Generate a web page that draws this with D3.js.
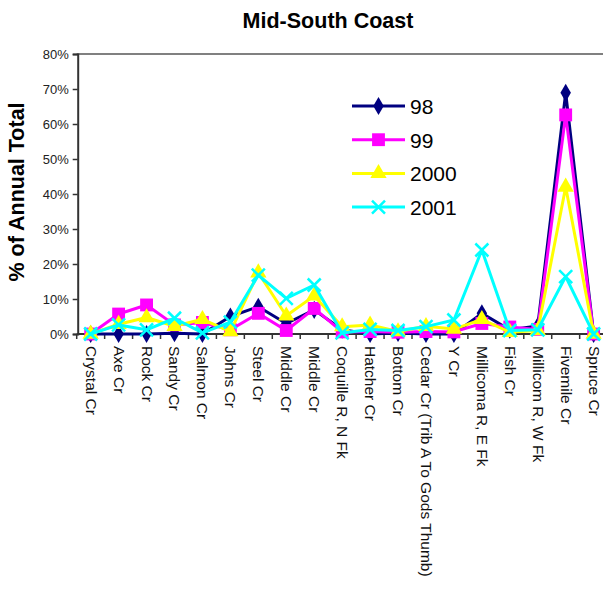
<!DOCTYPE html>
<html>
<head>
<meta charset="utf-8">
<script src="https://cdn.jsdelivr.net/npm/d3@7/dist/d3.min.js"></script>
<style>
  html, body { margin: 0; padding: 0; background: #fff; }
  svg { display: block; font-family: "Liberation Sans", Arial, sans-serif; }
</style>
</head>
<body>
<svg id="chart" width="603" height="592"></svg>
<script>
// Stream sites along the Mid-South Coast
const categories = ["Crystal Cr", "Axe Cr", "Rock Cr", "Sandy Cr", "Salmon Cr", "Johns Cr",
  "Steel Cr", "Middle Cr", "Middle Cr", "Coquille R, N Fk", "Hatcher Cr", "Bottom Cr",
  "Cedar Cr (Trib A To Gods Thumb)", "Y Cr", "Millicoma R, E Fk", "Fish Cr",
  "Millicom R, W Fk", "Fivemile Cr", "Spruce Cr"];

// Share of the annual total (percent) for each year
const values98   = [0, 0, 0, 0.2, 0, 5.0, 7.8, 3.0, 6.9, 1.2, 0, 0.3, 0, 0, 5.9, 1.2, 2.3, 68.9, 0];
const values99   = [0, 5.7, 8.3, 2.6, 3.3, 1.2, 5.9, 1.0, 7.3, 0.6, 0.7, 0.5, 0.7, 0.6, 3.0, 2.0, 1.3, 62.6, 0];
const values2000 = [0, 2.8, 4.7, 2.2, 4.2, 0.7, 17.5, 5.2, 10.9, 2.1, 2.6, 0.7, 2.2, 1.4, 4.2, 0.5, 1.0, 42.0, 0];
const values2001 = [0, 2.6, 1.2, 4.5, 0.3, 3.4, 16.8, 10.2, 14.0, 0.3, 1.3, 1.0, 2.1, 4.0, 24.0, 1.0, 1.2, 16.4, 0];

const seriesNames = ["98", "99", "2000", "2001"];
const yTicks = [0, 10, 20, 30, 40, 50, 60, 70, 80];

const series = [
  { name: seriesNames[0], values: values98,   color: "#000080", symbol: "diamond" },
  { name: seriesNames[1], values: values99,   color: "#FF00FF", symbol: "square" },
  { name: seriesNames[2], values: values2000, color: "#FFFF00", symbol: "triangle" },
  { name: seriesNames[3], values: values2001, color: "#00FFFF", symbol: "cross" }
];

const svg = d3.select("#chart");
const plot = { left: 76.7, right: 607.6, top: 54, bottom: 334 };

const x = d3.scaleBand().domain(d3.range(categories.length)).range([plot.left, plot.right]);
const cx = i => x(i) + x.bandwidth() / 2;
const y = d3.scaleLinear().domain([0, 80]).range([plot.bottom, plot.top]);

// Title
svg.append("text")
  .attr("x", 328).attr("y", 28)
  .attr("text-anchor", "middle")
  .attr("font-weight", "bold").attr("font-size", 21.5)
  .text("Mid-South Coast");

// Y axis title
svg.append("text")
  .attr("transform", `translate(24,${(plot.top + plot.bottom) / 2 - 2}) rotate(-90)`)
  .attr("text-anchor", "middle")
  .attr("font-weight", "bold").attr("font-size", 21.5)
  .text("% of Annual Total");

// Plot frame top edge
svg.append("line")
  .attr("x1", plot.left).attr("x2", plot.right)
  .attr("y1", plot.top).attr("y2", plot.top)
  .attr("stroke", "#808080").attr("stroke-width", 2);

// Y axis
const yAxis = svg.append("g")
  .attr("transform", `translate(${plot.left + 1},0)`)
  .call(d3.axisLeft(y).tickValues(yTicks).tickSize(5).tickPadding(4).tickFormat(d => d + "%"));
yAxis.select(".domain").attr("stroke", "#333").attr("stroke-width", 2);
yAxis.selectAll(".tick line").attr("stroke", "#333").attr("stroke-width", 1.5);
yAxis.selectAll(".tick text").attr("font-size", 13).attr("fill", "#222")
  .attr("font-family", "'Liberation Sans', Arial, sans-serif");

// X axis line and tick marks between categories
svg.append("line")
  .attr("x1", plot.left).attr("x2", plot.right)
  .attr("y1", plot.bottom).attr("y2", plot.bottom)
  .attr("stroke", "#333").attr("stroke-width", 2);
svg.append("g").selectAll("line")
  .data(d3.range(categories.length + 1))
  .join("line")
  .attr("x1", i => plot.left + i * x.bandwidth())
  .attr("x2", i => plot.left + i * x.bandwidth())
  .attr("y1", plot.bottom).attr("y2", plot.bottom + 5)
  .attr("stroke", "#333").attr("stroke-width", 1.5);

// Category labels, rotated to read downward
svg.append("g").selectAll("text")
  .data(categories)
  .join("text")
  .attr("transform", (d, i) => `translate(${cx(i) - 5},${plot.bottom + 12}) rotate(90)`)
  .attr("font-size", 15.5).attr("fill", "#111")
  .text(d => d);

const symbolType = {
  diamond: d3.symbol().type(d3.symbolDiamond).size(95),
  square: d3.symbol().type(d3.symbolSquare).size(165),
  triangle: d3.symbol().type(d3.symbolTriangle).size(115)
};

function drawMarker(g, s, px, py) {
  if (s.symbol === "cross") {
    const r = 6.5;
    g.append("path")
      .attr("d", `M${px - r},${py - r}L${px + r},${py + r}M${px - r},${py + r}L${px + r},${py - r}`)
      .attr("stroke", s.color).attr("stroke-width", 2.5).attr("fill", "none");
  } else {
    g.append("path")
      .attr("transform", `translate(${px},${py})`)
      .attr("d", symbolType[s.symbol]())
      .attr("fill", s.color);
  }
}

const line = d3.line().x((d, i) => cx(i)).y(d => y(d));

series.forEach(s => {
  const g = svg.append("g");
  g.append("path")
    .attr("d", line(s.values))
    .attr("fill", "none").attr("stroke", s.color).attr("stroke-width", 3)
    .attr("stroke-linejoin", "round");
  s.values.forEach((v, i) => drawMarker(g, s, cx(i), y(v)));
});

// Legend
const legend = svg.append("g");
series.forEach((s, k) => {
  const ly = 106 + k * 33.7;
  legend.append("line")
    .attr("x1", 352).attr("x2", 405).attr("y1", ly).attr("y2", ly)
    .attr("stroke", s.color).attr("stroke-width", 3);
  drawMarker(legend, s, 378.5, ly);
  legend.append("text")
    .attr("x", 410).attr("y", ly + 8)
    .attr("font-size", 21).attr("fill", "#000")
    .text(s.name);
});
</script>
</body>
</html>
